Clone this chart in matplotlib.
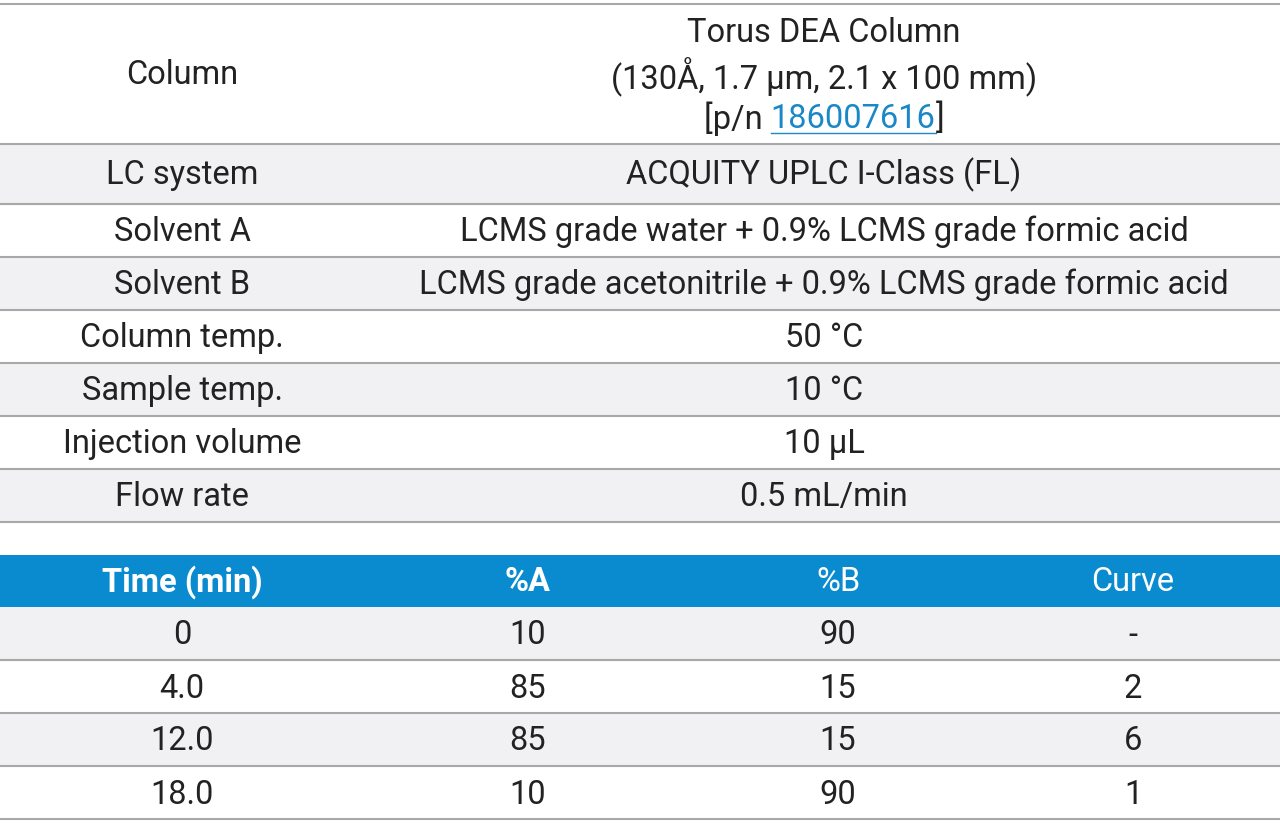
import matplotlib
matplotlib.use("Agg")
import matplotlib.pyplot as plt
from matplotlib.patches import Rectangle

params = ["Column", "LC system", "Solvent A", "Solvent B", "Column temp.",
          "Sample temp.", "Injection volume", "Flow rate"]
values = ["Torus DEA Column\n(130Å, 1.7 µm, 2.1 x 100 mm)\n[p/n 186007616]",
          "ACQUITY UPLC I-Class (FL)",
          "LCMS grade water + 0.9% LCMS grade formic acid",
          "LCMS grade acetonitrile + 0.9% LCMS grade formic acid",
          "50 °C", "10 °C", "10 µL", "0.5 mL/min"]
grad_headers = ["Time (min)", "%A", "%B", "Curve"]
grad_time = ["0", "4.0", "12.0", "18.0"]
grad_a = ["10", "85", "85", "10"]
grad_b = ["90", "15", "15", "90"]
grad_curve = ["-", "2", "6", "1"]

W, H = 1280, 824
fig = plt.figure(figsize=(W/100, H/100), dpi=100)
ax = fig.add_axes([0, 0, 1, 1])
ax.set_xlim(0, W); ax.set_ylim(H, 0); ax.axis("off")
FONT = "Roboto"; FS = 23.5
GRAY = "#f1f1f3"; LINE = "#a8a8a8"; BLUE = "#0a8bd0"

tops = [4, 144, 204, 257, 310, 363, 416, 469, 522]
for i, (p, v) in enumerate(zip(params, values)):
    y0, y1 = tops[i], tops[i+1]
    if i % 2 == 1:
        ax.add_patch(Rectangle((0, y0), W, y1-y0, color=GRAY, lw=0))
    yc = (y0+y1)/2 + 1
    ax.text(182, yc, p, ha="center", va="center", fontsize=FS, family=FONT, color="#222")
    if i == 0:
        lines = v.split("\n")
        ax.text(824, 33, lines[0], ha="center", va="center", fontsize=FS, family=FONT, color="#222")
        ax.text(824, 77, lines[1], ha="center", va="center", fontsize=FS, family=FONT, color="#222")
        parts = [("[p/n ", "#222"), ("186007616", "#1a87c9"), ("]", "#222")]
        fig.canvas.draw()
        r = fig.canvas.get_renderer()
        tmp = [ax.text(0, 0, s, fontsize=FS, family=FONT) for s, _ in parts]
        widths = [t.get_window_extent(r).width for t in tmp]
        for t in tmp: t.remove()
        x = 824 - sum(widths)/2
        for (s, c), w in zip(parts, widths):
            ax.text(x, 119, s, ha="left", va="center", fontsize=FS, family=FONT, color=c)
            if s == "186007616":
                ax.plot([x, x+w], [133, 133], color=c, lw=1)
            x += w
    else:
        ax.text(824, yc, v, ha="center", va="center", fontsize=FS, family=FONT, color="#222")
for y in tops:
    ax.plot([0, W], [y, y], color=LINE, lw=1.5)

ax.add_patch(Rectangle((0, 555), W, 52, color=BLUE, lw=0))
xs = [182, 528, 838, 1133]
for j, h in enumerate(grad_headers):
    ax.text(xs[j], 582, h, ha="center", va="center", fontsize=FS, family=FONT,
            color="white", weight="bold" if j < 2 else "normal")
gtops = [607, 660, 713, 766, 819]
rows = list(zip(grad_time, grad_a, grad_b, grad_curve))
for i, row in enumerate(rows):
    y0, y1 = gtops[i], gtops[i+1]
    if i % 2 == 0:
        ax.add_patch(Rectangle((0, y0), W, y1-y0, color=GRAY, lw=0))
    for j, s in enumerate(row):
        ax.text(xs[j], (y0+y1)/2 + 2, s, ha="center", va="center", fontsize=FS, family=FONT, color="#222")
for y in gtops[1:]:
    ax.plot([0, W], [y, y], color=LINE, lw=1.5)

fig.savefig("out.png", dpi=100)
